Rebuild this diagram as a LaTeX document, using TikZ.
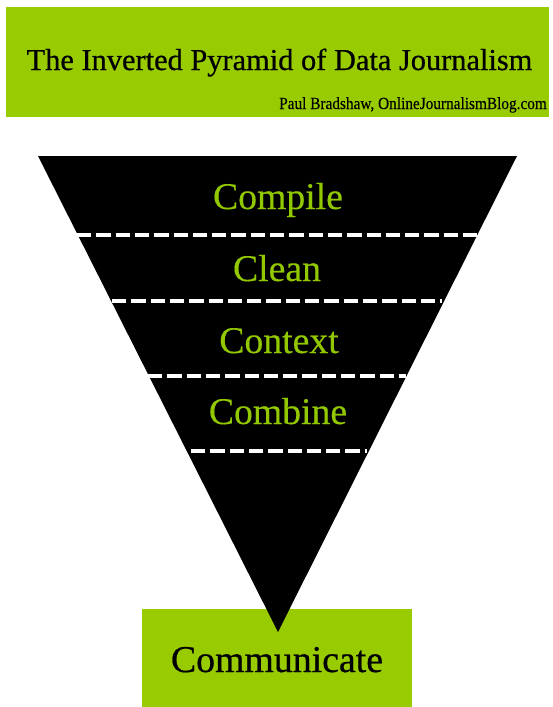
\documentclass[tikz,border=0pt]{standalone}
\usepackage{fontspec}
\setmainfont{Liberation Serif}
\newfontfamily\heavyserif[FakeBold=0.6]{Liberation Serif}
\newfontfamily\midserif[FakeBold=0.3]{Liberation Serif}
\definecolor{jgreen}{HTML}{99CC00}
\definecolor{tgreen}{HTML}{92C800}
\tikzset{
  band/.style={text=tgreen, anchor=base, inner sep=0pt, font=\midserif\fontsize{37.7}{40}\selectfont},
  sep/.style={draw=white, line width=4pt, dash pattern=on 14.3pt off 5pt},
}
\begin{document}
\begin{tikzpicture}[x=1pt,y=-1pt]
\useasboundingbox (0,0) rectangle (552,707);
% header
\fill[jgreen] (6,7) rectangle (549,117);
\node[anchor=base, inner sep=0pt, font=\heavyserif\fontsize{30.4}{34}\selectfont] (title) at (279.5,70) {The Inverted Pyramid of Data Journalism};
\node[anchor=base east, inner sep=0pt, xscale=0.9, font=\midserif\fontsize{17}{20}\selectfont] (author) at (547,109) {Paul Bradshaw, OnlineJournalismBlog.com};
% communicate box
\fill[jgreen] (142,609) rectangle (412,707);
\node[anchor=base, inner sep=0pt, font=\heavyserif\fontsize{37.8}{40}\selectfont] (comm) at (277,672) {Communicate};
% pyramid
\coordinate (tl) at (38,156);
\coordinate (tr) at (517,156);
\coordinate (apex) at (278,632);
\fill[black] (tl) -- (tr) -- (apex) -- cycle;
% separators
\coordinate (s1l) at (77,235);  \coordinate (s1r) at (480,235);
\coordinate (s2l) at (112,301); \coordinate (s2r) at (442,301);
\coordinate (s3l) at (148,376); \coordinate (s3r) at (406,376);
\coordinate (s4l) at (191,451); \coordinate (s4r) at (367,451);
\draw[sep] (s1l) -- (s1r);
\draw[sep] (s2l) -- (s2r);
\draw[sep] (s3l) -- (s3r);
\draw[sep] (s4l) -- (s4r);
% labels
\node[band] (compile) at (278,209) {Compile};
\node[band] (clean) at (277,281) {Clean};
\node[band] (context) at (279,353) {Context};
\node[band] (combine) at (278,424) {Combine};
\end{tikzpicture}
\end{document}
